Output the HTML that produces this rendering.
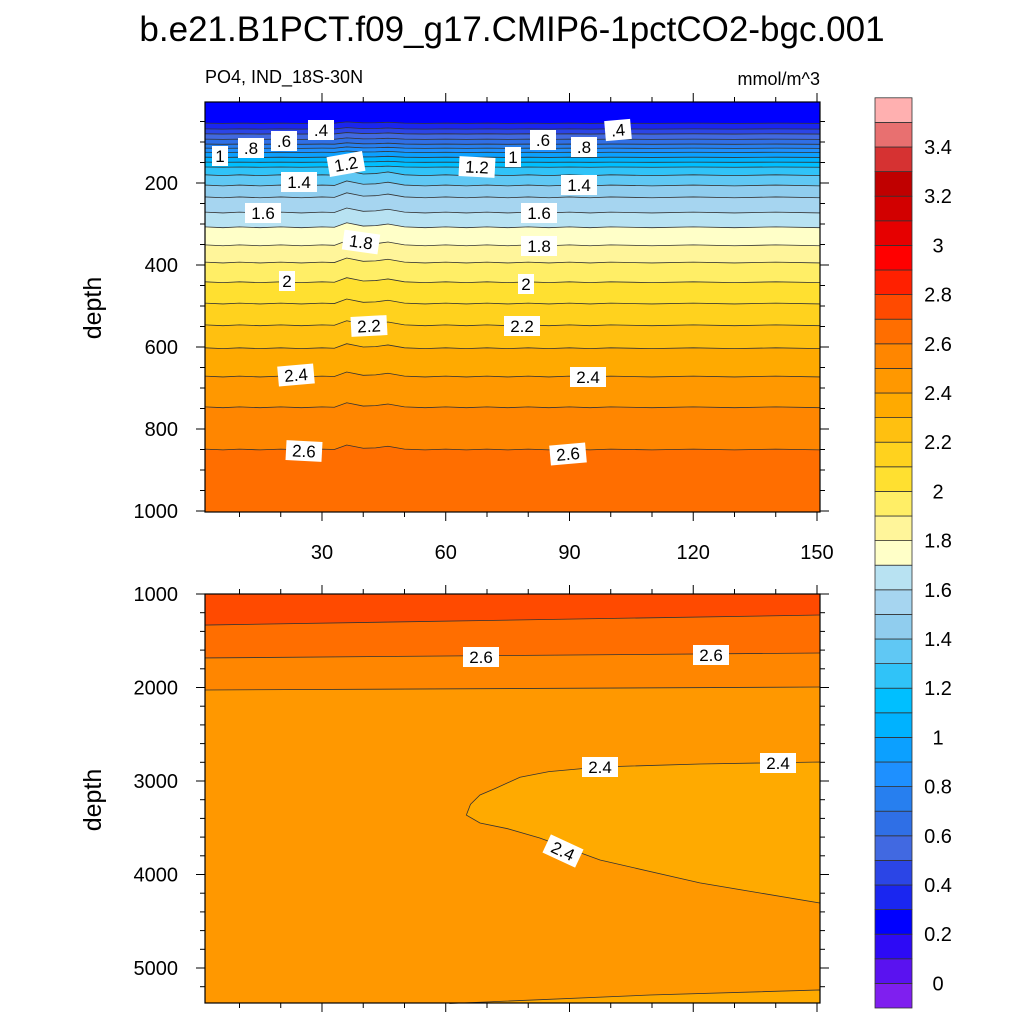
<!DOCTYPE html>
<html><head><meta charset="utf-8"><style>body{margin:0;background:#fff}svg{display:block;font-family:"Liberation Sans",sans-serif}</style></head>
<body>
<svg id="chart" width="1024" height="1024" viewBox="0 0 1024 1024">
<text x="512" y="41" text-anchor="middle" font-size="35">b.e21.B1PCT.f09_g17.CMIP6-1pctCO2-bgc.001</text>
<text x="205" y="83" font-size="18">PO4, IND_18S-30N</text>
<text x="820" y="85" font-size="18" text-anchor="end">mmol/m^3</text>
<text transform="translate(101,308) rotate(-90)" text-anchor="middle" font-size="25">depth</text>
<text transform="translate(101,800) rotate(-90)" text-anchor="middle" font-size="25">depth</text>
<g id="gtop"></g><g id="gbot"></g><g id="cbar"></g><g id="labels"></g>
</svg>
<script>
const colors=["#7f1fef","#5a12f0","#2d0af5","#0000ff","#1a26f0","#2b45e6","#4169e1","#2f6fe6","#277fef","#1e90ff","#0ca0ff","#00b2ff","#00bfff","#30c3f8","#60c8f4","#90cdee","#a6d5f0","#b8e2f2","#ffffc8","#fff59a","#ffee66","#ffe030","#ffd21e","#ffc010","#ffaa00","#ff9800","#ff8600","#ff6e00","#ff4a00","#ff2000","#ff0000","#e60000","#d20000","#c00000","#d63232","#e87070","#ffb0b0"];
const cbarLabels=["0","0.2","0.4","0.6","0.8","1","1.2","1.4","1.6","1.8","2","2.2","2.4","2.6","2.8","3","3.2","3.4"];
const xTicks=[30,60,90,120,150];
const topDepthTicks=[200,400,600,800,1000];
const botDepthTicks=[1000,2000,3000,4000,5000];
// top panel contours
const topLevels=[0.3,0.4,0.5,0.6,0.7,0.8,0.9,1.0,1.1,1.2,1.3,1.4,1.5,1.6,1.7,1.8,1.9,2.0,2.1,2.2,2.3,2.4,2.5,2.6];
const topBaseDepth=[54,68,80,93,105,115,125,137,149,161,180,205,234,271,307,351,393,441,493,546,602,671,746,849];
const topXs=[1.64,6,10,15,20,25,30,33,36,40,43,46,50,55,60,65,70,75,80,85,90,95,100,110,120,130,140,150.73];
const topWiggle=[0,2,0,2,0,2,0,1,-10,-2,-3,-7,0,2,0,2,0,2,0,2,0,2,0,2,0,2,0,2];
// bottom panel contours
const botXs=[1.64,150.73];
const botLevels=[2.7,2.6,2.5];
const botDepths=[[1332,1225],[1684,1631],[2027,1995]];
const loopUpperX=[65,66,68.3,72,78,85,97.4,121.6,150.73];
const loopUpperD=[3364,3250,3150,3080,2960,2900,2850,2818,2797];
const loopLowerX=[65,68.3,75,82.8,97.4,121.6,150.73];
const loopLowerD=[3364,3449,3510,3610,3845,4090,4305];
const deepX=[61,109.5,150.73];
const deepD=[5380,5289,5235];

const NS="http://www.w3.org/2000/svg";
function mk(tag,attrs,parent){const e=document.createElementNS(NS,tag);for(const k in attrs)e.setAttribute(k,attrs[k]);parent.appendChild(e);return e;}
const X0=205,X1=820;
const xs=x=>X0+(x-1.64)/(150.73-1.64)*(X1-X0);
const yTop=d=>101+d*0.41;
const yBot=d=>594+(d-1000)*0.0935;
const colFor=v=>colors[Math.round(v*10)+1];
const gT=document.getElementById('gtop'),gB=document.getElementById('gbot'),cb=document.getElementById('cbar');

// top panel
let r=mk('rect',{x:X0,y:102,width:X1-X0,height:410,fill:colors[3]},gT);


const topLines=[];
topLevels.forEach((v,i)=>{
  const pts=topXs.map((x,j)=>[xs(x),yTop(topBaseDepth[i]+topWiggle[j]*(i>=10?1:0.3))]);
  topLines.push(pts);
  const d='M'+pts.map(p=>p.join(',')).join('L')+`L${X1},512L${X0},512Z`;
  const p=mk('path',{d:d,fill:colFor(v)},gT);
  
  
});
topLines.forEach((pts,i)=>{
  const p=mk('polyline',{points:pts.map(p=>p.join(',')).join(' '),fill:'none',stroke:'#333',"stroke-width":0.8},gT);
  
  
});
r=mk('rect',{x:X0,y:102,width:X1-X0,height:410,fill:'none',stroke:'#000',"stroke-width":1.2},gT);



// bottom panel
r=mk('rect',{x:X0,y:594,width:X1-X0,height:409,fill:colors[25]},gB);


const botBands=[colors[28],colors[27],colors[26]];
for(let i=botLevels.length-1;i>=0;i--){
  const pts=botXs.map((x,j)=>[xs(x),yBot(botDepths[i][j])]);
  const d=`M${X0},594L${X1},594L`+pts.slice().reverse().map(p=>p.join(',')).join('L')+'Z';
  const p=mk('path',{d:d,fill:botBands[i]},gB);
  
  
}
botLevels.forEach((v,i)=>{
  const pts=botXs.map((x,j)=>[xs(x),yBot(botDepths[i][j])]);
  const p=mk('polyline',{points:pts.map(p=>p.join(',')).join(' '),fill:'none',stroke:'#333',"stroke-width":0.8},gB);
  
  
});
const up=loopUpperX.map((x,j)=>[xs(x),yBot(loopUpperD[j])]);
const lo=loopLowerX.map((x,j)=>[xs(x),yBot(loopLowerD[j])]);
let p=mk('path',{d:'M'+up.map(q=>q.join(',')).join('L')+'L'+lo.slice().reverse().map(q=>q.join(',')).join('L')+'Z',fill:colors[24],stroke:'#333',"stroke-width":0.8},gB);


const dp=deepX.map((x,j)=>[xs(x),yBot(deepD[j])]);
p=mk('path',{d:'M'+dp.map(q=>q.join(',')).join('L')+`L${X1},1003L${xs(deepX[0])},1003Z`,fill:colors[24],stroke:'#333',"stroke-width":0.8},gB);


r=mk('rect',{x:X0,y:594,width:X1-X0,height:409,fill:'none',stroke:'#000',"stroke-width":1.2},gB);



// ticks
function tick(g,x1,y1,x2,y2){const t=mk('line',{x1,y1,x2,y2,stroke:'#000',"stroke-width":1},g);}
for(let x=10;x<=150;x+=10){const major=xTicks.includes(x);const L=major?9:5;
  [[102,-1],[512,1],[594,-1],[1003,1]].forEach(([y,s])=>tick(gT,xs(x),y,xs(x),y+s*L));}
xTicks.forEach(v=>{const t=mk('text',{x:xs(v),y:559,"text-anchor":"middle","font-size":20},gT);t.textContent=v;
  });
for(let d=50;d<=1000;d+=50){const major=d%200==0;const L=major?9:5;tick(gT,X0,yTop(d),X0-L,yTop(d));tick(gT,X1,yTop(d),X1+L,yTop(d));}
topDepthTicks.forEach(v=>{const t=mk('text',{x:178,y:yTop(v)+7,"text-anchor":"end","font-size":20},gT);t.textContent=v;
  });
for(let d=1000;d<=5300;d+=200){const major=d%1000==0;const L=major?9:5;tick(gB,X0,yBot(d),X0-L,yBot(d));tick(gB,X1,yBot(d),X1+L,yBot(d));}
botDepthTicks.forEach(v=>{const t=mk('text',{x:178,y:yBot(v)+7,"text-anchor":"end","font-size":20},gB);t.textContent=v;
  });

// colorbar
const CBB=1008,BH=24.6;
colors.forEach((c,k)=>{const q=mk('rect',{x:875,y:CBB-(k+1)*BH,width:37,height:BH,fill:c,stroke:'#333',"stroke-width":0.8},cb);
  });
cbarLabels.forEach((s,i)=>{const t=mk('text',{x:938,y:CBB-(2*i+1)*BH+7,"text-anchor":"middle","font-size":20},cb);t.textContent=s;
  });

// contour labels
const labs=[[".4",321,130,0],[".8",251,148,0],[".6",284,141,0],["1",220,156,0],["1.2",346,164,-10],["1.4",299,182,0],["1.6",263,213,0],["1.8",361,242,8],["2",287,281,0],["2.2",369,326,-3],["2.4",296,375,-5],["2.6",304,451,3],
[".6",543,140,0],[".4",618,130,-5],[".8",584,147,0],["1",513,157,0],["1.2",477,167,3],["1.4",579,185,0],["1.6",539,213,0],["1.8",539,246,0],["2",526,284,0],["2.2",522,326,0],["2.4",588,377,0],["2.6",568,454,-5],
["2.6",481,657,0],["2.6",711,655,0],["2.4",600,767,0],["2.4",778,763,0],["2.4",563,851,25]];
const lg=document.getElementById('labels');
labs.forEach(([s,x,y,a])=>{const g=mk('g',{transform:`translate(${x},${y}) rotate(${a})`},lg);
  
  const w=s.length*10+6;mk('rect',{x:-w/2,y:-10,width:w,height:20,fill:'#fff'},g);
  const t=mk('text',{x:0,y:6,"text-anchor":"middle","font-size":17},g);t.textContent=s;});
</script>
</body></html>
